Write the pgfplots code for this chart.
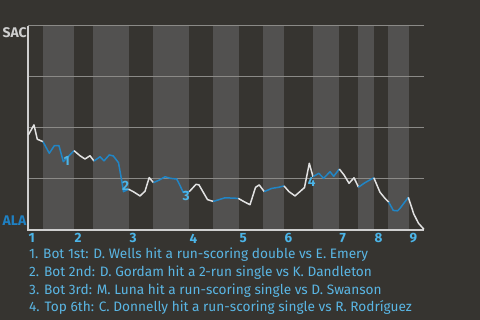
\documentclass[border=0pt]{standalone}
\usepackage{pgfplots}
\pgfplotsset{compat=1.18}
\usepackage{fontspec}
\setmainfont{Fira Sans}
\definecolor{bg}{HTML}{363430}
\definecolor{stripe}{HTML}{525150}
\definecolor{gridc}{HTML}{8B8A87}
\definecolor{axisc}{HTML}{CFCFCF}
\definecolor{wline}{HTML}{E2E2E2}
\definecolor{bline}{HTML}{2185C5}
\definecolor{alab}{HTML}{1F80C2}
\definecolor{tickb}{HTML}{4CB5E8}
\definecolor{noteb}{HTML}{5AB6E4}
\begin{document}
\begin{tikzpicture}
\fill[bg] (0,0) rectangle (480bp,320bp);
\begin{axis}[
  at={(28bp,90bp)}, anchor=south west,
  scale only axis, width=396bp, height=204bp,
  xmin=28, xmax=424, ymin=0, ymax=100,
  clip=false,
  axis line style={draw=none},
  major tick length=0pt,
  ytick=\empty,
  xtick={28,74,129,189,239,284,339,374,409},
  xticklabels={1,2,3,4,5,6,7,8,9},
  x tick label style={anchor=north west, inner sep=0pt, yshift=-3.5bp, xshift=0.5bp,
    font=\bfseries\fontsize{13.5}{13.5}\selectfont, text=tickb},
  wl/.style={wline, line width=1.5bp, line join=round},
  bl/.style={bline, line width=1.5bp, line join=round},
]
% half-inning stripes
\foreach \a/\b in {43/74,93/129,153/189,213/239,263/284,313/339,358/374,388/409}{
  \edef\tmp{\noexpand\fill[stripe] (axis cs:\a,0) rectangle (axis cs:\b,100);}\tmp
}
\foreach \g in {25,50,75,100}{
  \edef\tmp{\noexpand\draw[gridc, line width=1bp] (axis cs:28,\g) -- (axis cs:424,\g);}\tmp
}
\draw[axisc, line width=1.2bp] (axis cs:28,100) -- (axis cs:28,0) -- (axis cs:424,0);

\addplot[wl] coordinates {(28.3,46.6) (34,51.5) (37.3,44.5) (43,43.3)};
\addplot[bl] coordinates {(43,43.3) (49.3,37.6) (54.3,41.3) (59,41.3) (63.3,33.5) (74,38.9)};
\addplot[wl] coordinates {(74,38.9) (80,36.4) (85,34.8) (90,36.4) (94,33.8)};
\addplot[bl] coordinates {(94,33.8) (100,35.9) (104,33.9) (109.3,36.8) (113.3,36.3) (118.5,33.0) (121.7,24.2) (123.5,18.8) (128.5,20.0)};
\addplot[wl] coordinates {(128.5,20.0) (133.3,18.8) (140,16.7) (145,19.0) (149.2,25.7) (153.5,23.2)};
\addplot[bl] coordinates {(153.5,23.2) (159.3,24.5) (165,26.1) (170.7,25.3) (176.7,25.0) (180,21.8) (183.3,18.4) (189.3,18.8)};
\addplot[wl] coordinates {(189.3,18.8) (196,22.4) (199,22.1) (207.5,14.9) (213.3,14.0)};
\addplot[bl] coordinates {(213.3,14.0) (225,15.8) (238.3,15.5)};
\addplot[wl] coordinates {(238.3,15.5) (244,13.9) (250,12.4) (255.5,20.9) (259.2,22.1) (264.3,18.8)};
\addplot[bl] coordinates {(264.3,18.8) (271.7,20.4) (278.3,20.9) (284,21.6)};
\addplot[wl] coordinates {(284,21.6) (289,18.8) (295,16.7) (304.5,20.8) (309.3,32.7) (313,26.1)};
\addplot[bl] coordinates {(313,26.1) (318.8,27.8) (323.6,25.3) (330,28.6) (333.7,26.3) (339.3,29.9)};
\addplot[wl] coordinates {(339.3,29.9) (344,27.0) (349,22.9) (354,25.6) (358.5,21.0)};
\addplot[bl] coordinates {(358.5,21.0) (365,23.2) (373.8,25.6)};
\addplot[wl] coordinates {(373.8,25.6) (380,18.5) (385,15.5) (388.8,13.6)};
\addplot[bl] coordinates {(388.8,13.6) (393.3,9.6) (397.5,9.4) (400,10.6) (408.3,16.0)};
\addplot[wl] coordinates {(408.3,16.0) (413.8,7.8) (418.5,3.3) (424,0.3)};

\foreach \x/\y/\t in {66.7/34.0/1,125.7/21.6/2,186/16.7/3,311.7/23.7/4}{
  \edef\tmp{\noexpand\node[text=tickb, font=\noexpand\bfseries\noexpand\fontsize{13.5}{13.5}\noexpand\selectfont, inner sep=0pt] at (axis cs:\x,\y) {\t};}\tmp
}
\end{axis}
\node[anchor=base west, inner sep=0pt, text=axisc, font=\bfseries\fontsize{14}{14}\selectfont] at (2.5bp,282bp) {SAC};
\node[anchor=base west, inner sep=0pt, text=alab, font=\bfseries\fontsize{14}{14}\selectfont] at (2.5bp,94bp) {ALA};
\begin{scope}[every node/.style={anchor=base west, inner sep=0pt, text=noteb, font=\fontsize{13.7}{13.7}\selectfont}]
\node at (29bp,61bp) {1. Bot 1st: D. Wells hit a run-scoring double vs E. Emery};
\node at (29bp,43.5bp) {2. Bot 2nd: D. Gordam hit a 2-run single vs K. Dandleton};
\node at (29bp,26bp) {3. Bot 3rd: M. Luna hit a run-scoring single vs D. Swanson};
\node at (29bp,8.5bp) {4. Top 6th: C. Donnelly hit a run-scoring single vs R. Rodríguez};
\end{scope}
\end{tikzpicture}
\end{document}
